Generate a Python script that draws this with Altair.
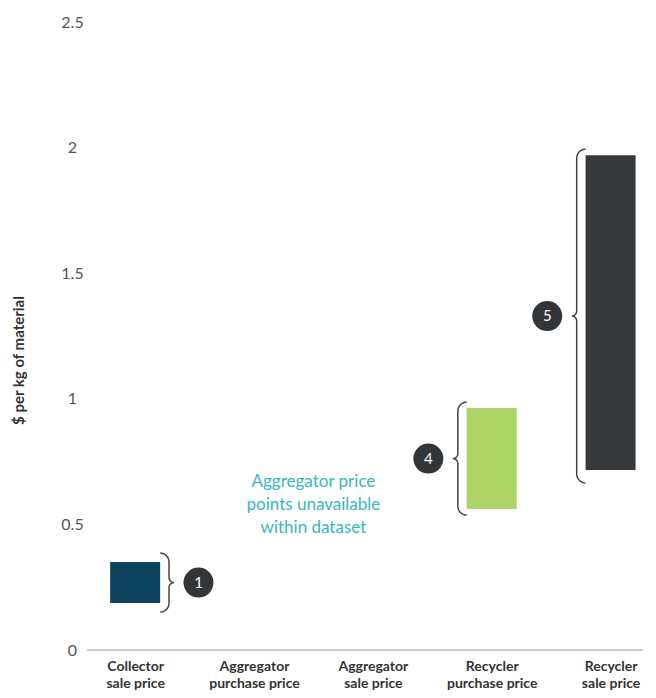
import json
import math
import altair as alt
import pandas as pd

# ---------------- data ----------------
categories = [
    "Collector sale price",
    "Aggregator purchase price",
    "Aggregator sale price",
    "Recycler purchase price",
    "Recycler sale price",
]
price_low = [0.187, None, None, 0.561, 0.717]
price_high = [0.350, None, None, 0.963, 1.970]
brace_low = [0.151, None, None, 0.537, 0.665]
brace_high = [0.386, None, None, 0.987, 1.994]
marker_numbers = ["1", None, None, "4", "5"]
note_text = "Aggregator price\npoints unavailable\nwithin dataset"
note_value = 0.668
y_ticks = [0, 0.5, 1, 1.5, 2, 2.5]

# ---------------- styles ----------------
bar_colors = {
    "Collector sale price": "#0e4460",
    "Recycler purchase price": "#acd466",
    "Recycler sale price": "#363a3d",
}
brace_side = {"Collector sale price": 1, "Recycler purchase price": -1, "Recycler sale price": -1}
FONT = "Lato"
PLOT_W, PLOT_H = 566, 628
PAD = {"left": 74, "top": 14, "right": 0, "bottom": 40}
X_DOMAIN = [-0.405, 4.2727]
Y_DOMAIN = [0, 2.5]
PX_X = PLOT_W / (X_DOMAIN[1] - X_DOMAIN[0])  # pixels per category step
PX_Y = PLOT_H / (Y_DOMAIN[1] - Y_DOMAIN[0])  # pixels per $
BAR_W = 50
HOOK_R = 9
TIP_R = 5
MARKER_GAP = 25
BASELINE_PX = 1.6

# ---------------- tables ----------------
bars = pd.DataFrame(
    [
        {"cat": c, "idx": i, "lo": lo, "hi": hi}
        for i, (c, lo, hi) in enumerate(zip(categories, price_low, price_high))
        if lo is not None
    ]
)

brace_rows = []
marker_rows = []
for i, (c, lo, hi, num) in enumerate(zip(categories, brace_low, brace_high, marker_numbers)):
    if lo is None:
        continue
    s = brace_side[c]
    xe = i + s * (BAR_W / 2 + 0.5) / PX_X
    r = HOOK_R / PX_X
    ry = HOOK_R / PX_Y
    t = TIP_R / PX_X
    ty = TIP_R / PX_Y
    xv = xe + s * r
    mid = (lo + hi) / 2
    pts = []
    steps = 8
    for k in range(steps + 1):
        th = math.radians(90 * k / steps)
        pts.append((xe + s * r * math.sin(th), hi - ry + ry * math.cos(th)))
    for k in range(steps + 1):
        ph = math.radians(90 * k / steps)
        pts.append((xv + s * t * (1 - math.cos(ph)), mid + ty * (1 - math.sin(ph))))
    for k in range(steps, -1, -1):
        ph = math.radians(90 * k / steps)
        pts.append((xv + s * t * (1 - math.cos(ph)), mid - ty * (1 - math.sin(ph))))
    for k in range(steps, -1, -1):
        th = math.radians(90 * k / steps)
        pts.append((xe + s * r * math.sin(th), lo + ry - ry * math.cos(th)))
    for n, (px, py) in enumerate(pts):
        brace_rows.append({"brace": c, "ord": n, "x": px, "y": py})
    tip_x = xv + s * t
    marker_rows.append({"x": tip_x + s * MARKER_GAP / PX_X, "y": mid, "label": num})

braces = pd.DataFrame(brace_rows)
markers = pd.DataFrame(marker_rows)
note = pd.DataFrame([{"x": 1.5, "y": note_value, "text": note_text}])
half = BASELINE_PX / 2 / PX_Y
baseline = pd.DataFrame(
    {"x0": [X_DOMAIN[0]], "x1": [X_DOMAIN[1]], "y0": [-half], "y1": [half]}
)

label_lines = [c.split(" ", 1) for c in categories]
label_expr = json.dumps(label_lines) + "[datum.value]"

x_scale = alt.Scale(domain=X_DOMAIN, nice=False, zero=False)
y_scale = alt.Scale(domain=Y_DOMAIN, nice=False)

x_axis = alt.Axis(
    values=list(range(len(categories))),
    labelExpr=label_expr,
    title=None,
    grid=False,
    ticks=False,
    domain=False,
    labelFont=FONT,
    labelFontSize=14,
    labelFontWeight="bold",
    labelColor="#333333",
    labelPadding=9,
    labelLineHeight=17,
    labelBaseline="top",
    labelAlign="center",
    labelFlush=False,
    labelOverlap=False,
)
y_axis = alt.Axis(
    values=y_ticks,
    format="~g",
    title="$ per kg of material",
    titleFont=FONT,
    titleFontSize=15,
    titleFontWeight="bold",
    titleColor="#333333",
    titleAngle=-90,
    titleX=-64,
    titleY=338,
    titleAlign="center",
    titleBaseline="middle",
    grid=False,
    ticks=False,
    domain=False,
    labelFont=FONT,
    labelFontSize=16,
    labelColor="#555555",
    labelAlign="center",
    labelPadding=10,
    labelBaseline="middle",
)

bar_layer = (
    alt.Chart(bars)
    .mark_bar(width=BAR_W, orient="vertical")
    .encode(
        x=alt.X("idx:Q", scale=x_scale, axis=x_axis),
        y=alt.Y("lo:Q", scale=y_scale, axis=y_axis),
        y2="hi:Q",
        color=alt.Color(
            "cat:N",
            scale=alt.Scale(domain=list(bar_colors.keys()), range=list(bar_colors.values())),
            legend=None,
        ),
    )
)

baseline_layer = (
    alt.Chart(baseline)
    .mark_rect(color="#bdbdbd", opacity=1)
    .encode(
        x=alt.X("x0:Q", scale=x_scale),
        x2="x1:Q",
        y=alt.Y("y0:Q", scale=y_scale),
        y2="y1:Q",
    )
)

brace_layer = (
    alt.Chart(braces)
    .mark_line(color="#444444", strokeWidth=1.5)
    .encode(
        x=alt.X("x:Q", scale=x_scale),
        y=alt.Y("y:Q", scale=y_scale),
        detail="brace:N",
        order="ord:Q",
    )
)

marker_layer = (
    alt.Chart(markers)
    .mark_point(shape="circle", filled=True, size=900, color="#333639", opacity=1, strokeWidth=0)
    .encode(x=alt.X("x:Q", scale=x_scale), y=alt.Y("y:Q", scale=y_scale))
)

marker_text = (
    alt.Chart(markers)
    .mark_text(font=FONT, fontSize=15, color="white", align="center", baseline="middle")
    .encode(
        x=alt.X("x:Q", scale=x_scale),
        y=alt.Y("y:Q", scale=y_scale),
        text="label:N",
    )
)

note_layer = (
    alt.Chart(note)
    .mark_text(
        font=FONT,
        fontSize=17,
        color="#35b8c1",
        align="center",
        baseline="middle",
        lineBreak="\n",
        lineHeight=23,
    )
    .encode(
        x=alt.X("x:Q", scale=x_scale),
        y=alt.Y("y:Q", scale=y_scale),
        text="text:N",
    )
)

chart = (
    alt.layer(bar_layer, baseline_layer, brace_layer, marker_layer, marker_text, note_layer)
    .properties(
        width=PLOT_W,
        height=PLOT_H,
        autosize=alt.AutoSizeParams(type="none"),
        padding=PAD,
    )
    .configure(font=FONT)
    .configure_view(strokeOpacity=0)
    .configure_axis(grid=False)
)

chart.save("out.html", embed_options={"renderer": "svg", "actions": False})
